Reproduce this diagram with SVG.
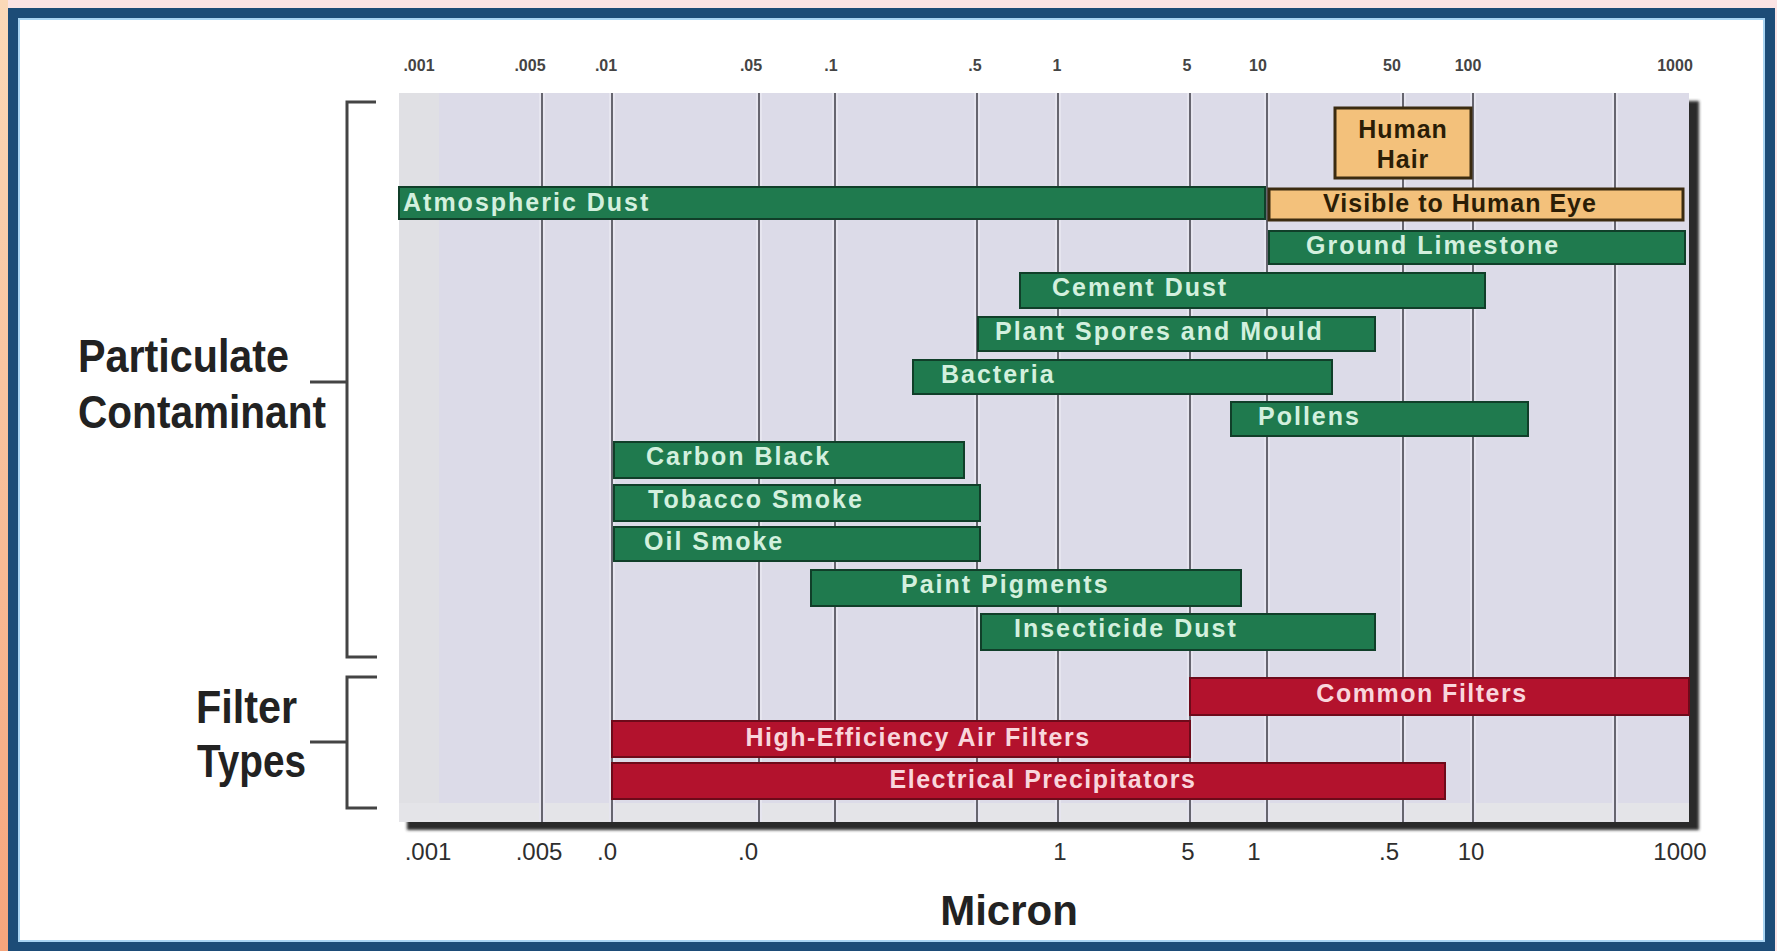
<svg xmlns="http://www.w3.org/2000/svg" width="1777" height="951" viewBox="0 0 1777 951">
  <defs>
    <linearGradient id="leftEdge" x1="0" y1="0" x2="0" y2="1">
      <stop offset="0" stop-color="#fbd9b8"/>
      <stop offset="1" stop-color="#f6a57c"/>
    </linearGradient>
    <filter id="blur1" x="-5%" y="-5%" width="110%" height="110%">
      <feGaussianBlur stdDeviation="1.5"/>
    </filter>
    <style>
      .axisTop { font-family: "Liberation Sans", Arial, sans-serif; font-size: 16px; font-weight: bold; fill: #444444; text-anchor: middle; }
      .axisBot { font-family: "Liberation Sans", Arial, sans-serif; font-size: 24px; fill: #2e2e2e; text-anchor: middle; }
      .grid { stroke: #66656f; stroke-width: 2; }
      .gridHalo { stroke: #e6e5ef; stroke-width: 6; }
      .barG { fill: #1f7a4e; stroke: #103f29; stroke-width: 2; }
      .barO { fill: #f3c17b; stroke: #3b2b10; stroke-width: 3; }
      .barR { fill: #b3122d; stroke: #6e0a1a; stroke-width: 2; }
      .tG { font-family: "Liberation Sans", Arial, sans-serif; font-size: 25px; font-weight: bold; fill: #d3f0de; letter-spacing: 2px; }
      .tO { font-family: "Liberation Sans", Arial, sans-serif; font-size: 25px; font-weight: bold; fill: #2b1d06; letter-spacing: 1px; text-anchor: middle; }
      .tR { font-family: "Liberation Sans", Arial, sans-serif; font-size: 25px; font-weight: bold; fill: #f9d6dc; letter-spacing: 1.5px; text-anchor: middle; }
      .big { font-family: "Liberation Sans", Arial, sans-serif; font-size: 46px; font-weight: bold; fill: #222222; }
      .bracket { fill: none; stroke: #444444; stroke-width: 3; }
    </style>
  </defs>

  <!-- page background and frame -->
  <rect x="0" y="0" width="1777" height="951" fill="#fbe4e4"/>
  <rect x="0" y="0" width="8" height="951" fill="url(#leftEdge)"/>
  <rect x="13" y="13" width="1757" height="934" fill="#ffffff" stroke="#1d4c77" stroke-width="10"/>
  <rect x="19" y="19" width="1745" height="922" fill="none" stroke="#a9d4f2" stroke-width="2"/>

  <!-- plot area -->
  <g id="plot">
    <rect x="407" y="101" width="1292" height="729" fill="#2a2a2a" filter="url(#blur1)"/>
    <rect x="399" y="93" width="1290" height="729" fill="#dcdbe8"/>
    <rect x="399" y="93" width="40" height="729" fill="#e0e0e4"/>
    <rect x="399" y="803" width="1290" height="19" fill="#e4e4e8"/>
  </g>

  <!-- grid lines -->
  <g id="grid">
    <g class="gridHalo">
      <line x1="542" y1="93" x2="542" y2="822"/>
      <line x1="612" y1="93" x2="612" y2="822"/>
      <line x1="759" y1="93" x2="759" y2="822"/>
      <line x1="835" y1="93" x2="835" y2="822"/>
      <line x1="977" y1="93" x2="977" y2="822"/>
      <line x1="1058" y1="93" x2="1058" y2="822"/>
      <line x1="1190" y1="93" x2="1190" y2="822"/>
      <line x1="1267" y1="93" x2="1267" y2="822"/>
      <line x1="1403" y1="93" x2="1403" y2="822"/>
      <line x1="1473" y1="93" x2="1473" y2="822"/>
      <line x1="1615" y1="93" x2="1615" y2="822"/>
    </g>
    <g class="grid">
      <line x1="542" y1="93" x2="542" y2="822"/>
      <line x1="612" y1="93" x2="612" y2="822"/>
      <line x1="759" y1="93" x2="759" y2="822"/>
      <line x1="835" y1="93" x2="835" y2="822"/>
      <line x1="977" y1="93" x2="977" y2="822"/>
      <line x1="1058" y1="93" x2="1058" y2="822"/>
      <line x1="1190" y1="93" x2="1190" y2="822"/>
      <line x1="1267" y1="93" x2="1267" y2="822"/>
      <line x1="1403" y1="93" x2="1403" y2="822"/>
      <line x1="1473" y1="93" x2="1473" y2="822"/>
      <line x1="1615" y1="93" x2="1615" y2="822"/>
    </g>
  </g>

  <!-- top axis labels -->
  <g id="axis-top">
    <text class="axisTop" x="419" y="71">.001</text>
    <text class="axisTop" x="530" y="71">.005</text>
    <text class="axisTop" x="606" y="71">.01</text>
    <text class="axisTop" x="751" y="71">.05</text>
    <text class="axisTop" x="831" y="71">.1</text>
    <text class="axisTop" x="975" y="71">.5</text>
    <text class="axisTop" x="1057" y="71">1</text>
    <text class="axisTop" x="1187" y="71">5</text>
    <text class="axisTop" x="1258" y="71">10</text>
    <text class="axisTop" x="1392" y="71">50</text>
    <text class="axisTop" x="1468" y="71">100</text>
    <text class="axisTop" x="1675" y="71">1000</text>
  </g>

  <!-- bottom axis labels -->
  <g id="axis-bottom">
    <text class="axisBot" x="428" y="860">.001</text>
    <text class="axisBot" x="539" y="860">.005</text>
    <text class="axisBot" x="607" y="860">.0</text>
    <text class="axisBot" x="748" y="860">.0</text>
    <text class="axisBot" x="1060" y="860">1</text>
    <text class="axisBot" x="1188" y="860">5</text>
    <text class="axisBot" x="1254" y="860">1</text>
    <text class="axisBot" x="1389" y="860">.5</text>
    <text class="axisBot" x="1471" y="860">10</text>
    <text class="axisBot" x="1680" y="860">1000</text>
  </g>

  <!-- particulate contaminants -->
  <g id="human-hair">
    <rect class="barO" x="1335" y="108" width="136" height="70"/>
    <text class="tO" x="1403" y="138">Human</text>
    <text class="tO" x="1403" y="168">Hair</text>
  </g>
  <g id="atmospheric-dust">
    <rect class="barG" x="399" y="187" width="866" height="32"/>
    <text class="tG" x="403" y="211">Atmospheric Dust</text>
  </g>
  <g id="visible-to-human-eye">
    <rect class="barO" x="1269" y="189" width="414" height="31"/>
    <text class="tO" x="1460" y="212">Visible to Human Eye</text>
  </g>
  <g id="ground-limestone">
    <rect class="barG" x="1269" y="231" width="416" height="33"/>
    <text class="tG" x="1306" y="254">Ground Limestone</text>
  </g>
  <g id="cement-dust">
    <rect class="barG" x="1020" y="273" width="465" height="35"/>
    <text class="tG" x="1052" y="296">Cement Dust</text>
  </g>
  <g id="plant-spores">
    <rect class="barG" x="978" y="317" width="397" height="34"/>
    <text class="tG" x="995" y="340">Plant Spores and Mould</text>
  </g>
  <g id="bacteria">
    <rect class="barG" x="913" y="360" width="419" height="34"/>
    <text class="tG" x="941" y="383">Bacteria</text>
  </g>
  <g id="pollens">
    <rect class="barG" x="1231" y="402" width="297" height="34"/>
    <text class="tG" x="1258" y="425">Pollens</text>
  </g>
  <g id="carbon-black">
    <rect class="barG" x="614" y="442" width="350" height="36"/>
    <text class="tG" x="646" y="465">Carbon Black</text>
  </g>
  <g id="tobacco-smoke">
    <rect class="barG" x="614" y="485" width="366" height="36"/>
    <text class="tG" x="648" y="508">Tobacco Smoke</text>
  </g>
  <g id="oil-smoke">
    <rect class="barG" x="614" y="527" width="366" height="34"/>
    <text class="tG" x="644" y="550">Oil Smoke</text>
  </g>
  <g id="paint-pigments">
    <rect class="barG" x="811" y="570" width="430" height="36"/>
    <text class="tG" x="901" y="593">Paint Pigments</text>
  </g>
  <g id="insecticide-dust">
    <rect class="barG" x="981" y="614" width="394" height="36"/>
    <text class="tG" x="1014" y="637">Insecticide Dust</text>
  </g>

  <!-- filter types -->
  <g id="common-filters">
    <rect class="barR" x="1190" y="678" width="499" height="37"/>
    <text class="tR" x="1422" y="702">Common Filters</text>
  </g>
  <g id="high-efficiency">
    <rect class="barR" x="612" y="721" width="578" height="36"/>
    <text class="tR" x="918" y="746">High-Efficiency Air Filters</text>
  </g>
  <g id="electrical-precipitators">
    <rect class="barR" x="612" y="763" width="833" height="36"/>
    <text class="tR" x="1043" y="788">Electrical Precipitators</text>
  </g>

  <!-- brackets (connectors) -->
  <g id="connectors">
    <path class="bracket" d="M376,102 H347 V657 H377"/>
    <line class="bracket" x1="310" y1="382" x2="347" y2="382"/>
    <path class="bracket" d="M377,677 H347 V808 H377"/>
    <line class="bracket" x1="310" y1="742" x2="347" y2="742"/>
  </g>

  <!-- category labels -->
  <g id="label-particulate">
    <text class="big" x="78" y="372" textLength="211" lengthAdjust="spacingAndGlyphs">Particulate</text>
    <text class="big" x="78" y="428" textLength="248" lengthAdjust="spacingAndGlyphs">Contaminant</text>
  </g>
  <g id="label-filter">
    <text class="big" x="196" y="723" textLength="101" lengthAdjust="spacingAndGlyphs">Filter</text>
    <text class="big" x="197" y="777" textLength="109" lengthAdjust="spacingAndGlyphs">Types</text>
  </g>
  <g id="label-micron">
    <text class="big" x="1009" y="925" text-anchor="middle" style="font-size:42px">Micron</text>
  </g>
</svg>
